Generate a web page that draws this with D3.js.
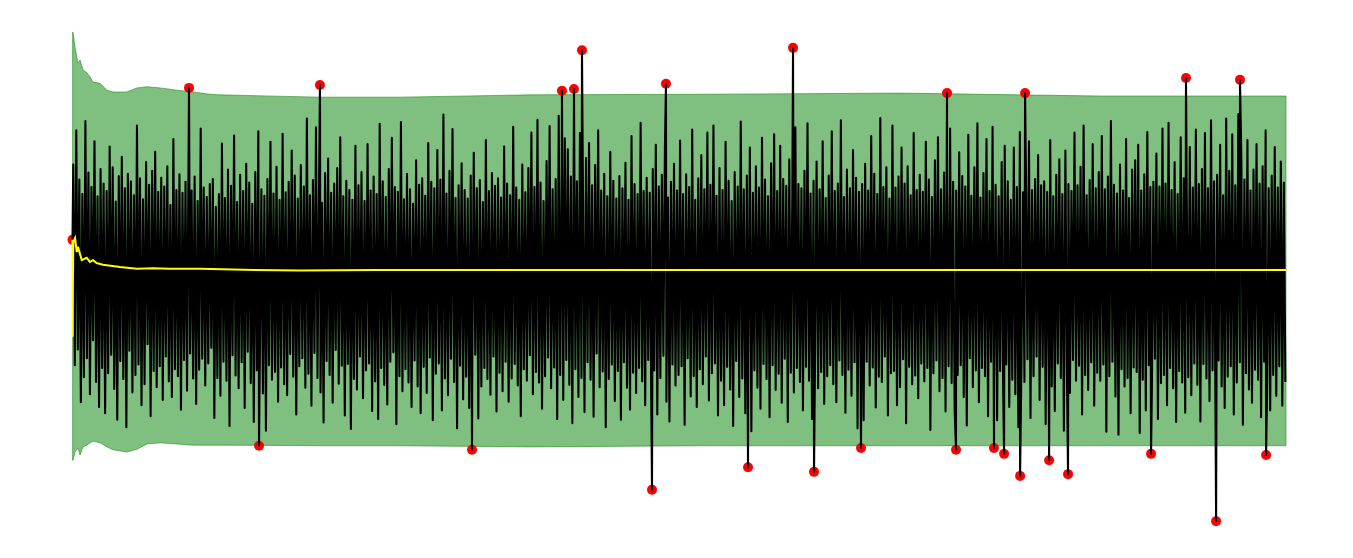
<!DOCTYPE html>
<html>
<head>
<meta charset="utf-8">
<script src="https://cdn.jsdelivr.net/npm/d3@7"></script>
<style>
  body { margin: 0; background: #fff; }
  svg { display: block; }
</style>
</head>
<body>
<svg width="1353" height="558"></svg>
<script>
// sample count of the original record (x axis is the sample index)
var nSamples = 10000;

// signal, read as a down-sampled trace (evenly spaced over the record)
var signal = [
  1.82,-1.64,2.41,-1.37,1.56,-2.28,1.31,-1.85,2.57,-1.52,1.68,-2.14,1.43,-1.21,2.22,-1.93,1.27,-2.36,1.74,-1.69,
  1.49,-2.47,1.36,-1.78,2.13,-1.46,1.77,-2.05,1.18,-2.58,1.62,-1.57,1.95,-1.88,1.41,-2.71,1.66,-1.39,1.53,-2.11,
  1.29,-1.81,2.49,-1.63,1.58,-2.33,1.22,-1.97,1.86,-1.28,1.47,-2.52,1.71,-1.74,2.04,-2.02,1.35,-1.66,1.59,-2.24,
  1.44,-1.49,1.79,-1.92,1.12,-2.19,2.26,-1.71,1.38,-1.83,1.65,-2.41,1.33,-1.55,1.52,-2.08,1.97,-1.44,1.37,-1.87,
  1.61,-2.31,1.19,-1.72,2.44,-1.53,1.42,-1.99,1.26,-1.61,1.48,-1.34,1.57,-2.55,1.09,-1.86,1.31,-2.17,2.18,-1.58,
  1.24,-1.91,1.73,-2.69,1.45,-1.47,2.32,-1.82,1.17,-2.04,1.64,-1.59,1.36,-2.38,1.83,-1.41,1.51,-1.95,1.14,-2.62,
  1.69,-1.73,2.39,-1.51,1.39,-2.13,1.28,-2.77,1.57,-1.64,2.21,-1.89,1.32,-1.76,1.78,-2.27,1.21,-1.68,2.35,-1.97,
  1.34,-2.16,1.52,-1.45,2.06,-1.84,1.63,-2.49,1.23,-1.66,1.81,-1.52,1.44,-2.03,2.61,-1.79,1.29,-2.34,1.55,-1.43,
  2.46,-1.86,1.41,-2.11,1.16,-2.63,1.67,-1.57,1.92,-1.81,1.33,-2.29,1.49,-1.38,1.76,-1.96,2.29,-1.65,1.27,-2.51,
  1.54,-1.62,1.38,-2.74,1.21,-1.88,2.14,-2.06,1.46,-1.49,1.69,-2.21,1.19,-1.73,2.17,-1.61,1.37,-2.43,1.61,-1.92,
  1.31,-2.57,2.52,-1.69,1.53,-1.98,1.26,-2.32,1.74,-1.58,2.28,-1.42,1.43,-2.66,1.35,-1.83,2.55,-2.09,1.22,-1.71,
  1.66,-1.94,1.39,-2.36,1.14,-1.56,1.89,-2.01,1.47,-2.47,1.58,-1.67,1.28,-2.12,2.19,-1.51,1.52,-2.59,1.41,-1.79,
  2.07,-1.61,1.56,-2.42,2.68,-1.87,1.32,-2.16,1.71,-1.53,2.43,-1.93,1.24,-2.73,1.46,-1.65,1.84,-2.23,1.38,-1.84,
  1.23,-2.38,1.63,-1.74,2.02,-1.46,1.41,-2.56,1.55,-2.01,1.17,-1.69,2.24,-1.88,1.36,-2.15,1.67,-1.49,1.45,-2.44,
  1.58,-1.77,1.25,-2.09,2.13,-1.58,1.49,-2.27,1.29,-1.87,2.47,-1.62,1.42,-1.99,1.21,-2.52,1.82,-1.71,1.34,-1.91,
  1.76,-1.47,2.37,-2.14,1.43,-1.76,2.59,-1.94,1.51,-2.39,1.19,-1.83,1.88,-1.51,2.48,-2.04,1.39,-1.68,1.57,-2.57,
  2.66,-1.81,1.72,-2.24,2.27,-1.55,2.08,-1.98,1.61,-2.64,2.62,-1.71,1.53,-2.19,2.36,-1.86,1.34,-2.45,1.93,-1.59,
  2.19,-1.89,1.46,-2.53,1.81,-1.44,2.41,-2.02,1.37,-1.75,1.66,-2.71,1.27,-1.88,2.04,-1.63,1.54,-2.26,1.23,-1.74,
  1.62,-2.58,1.41,-1.59,1.85,-2.03,1.21,-2.41,2.31,-1.77,1.48,-2.12,1.31,-1.69,2.54,-1.92,1.36,-2.33,1.59,-1.55,
  1.33,-2.22,1.74,-1.73,2.16,-2.49,1.44,-1.86,1.64,-1.48,2.09,-2.27,1.25,-2.61,1.52,-1.63,1.83,-1.99,1.37,-1.81,
  2.23,-1.66,1.31,-2.67,1.65,-1.52,1.43,-2.18,2.42,-1.83,1.21,-2.36,1.58,-1.71,1.98,-1.97,1.39,-1.49,2.37,-2.25,
  1.47,-1.78,2.49,-1.61,1.28,-2.51,1.76,-1.91,1.38,-2.33,2.21,-1.67,1.54,-2.06,1.19,-2.69,1.69,-1.57,1.44,-2.19,
  2.56,-1.87,1.39,-2.47,1.63,-1.51,2.11,-2.78,1.33,-1.73,1.79,-2.03,1.42,-2.39,2.28,-1.62,1.56,-1.88,1.27,-2.54,
  1.84,-1.64,2.34,-2.07,1.36,-1.79,2.14,-2.29,1.57,-1.53,1.45,-2.62,1.91,-1.77,1.29,-2.11,2.46,-1.69,1.48,-1.93,
  1.41,-2.42,1.71,-1.67,2.53,-1.91,1.32,-2.57,1.54,-1.47,1.87,-2.04,1.39,-1.76,2.22,-2.31,1.24,-1.83,1.63,-1.64,
  2.39,-1.97,1.36,-2.28,1.49,-1.56,2.58,-1.81,1.26,-2.46,1.73,-1.72,1.41,-2.17,2.07,-1.59,1.59,-2.73,1.35,-1.86,
  1.48,-2.59,1.83,-1.58,1.37,-1.99,2.31,-1.68,1.66,-2.37,1.31,-1.84,2.62,-1.93,1.43,-1.49,1.77,-2.51,1.23,-1.78,
  2.49,-1.74,1.42,-2.33,1.61,-2.02,2.11,-1.54,1.49,-2.64,1.79,-1.67,1.29,-1.97,2.36,-1.82,1.38,-2.21,1.64,-1.61,
  1.35,-1.92,2.21,-1.69,1.56,-2.76,1.26,-1.78,1.89,-1.56,2.29,-2.09,1.39,-1.86,1.68,-2.44,1.33,-1.66,2.44,-1.95,
  1.52,-2.41,1.37,-1.81,2.03,-1.64,1.62,-2.19,1.44,-2.68,2.33,-1.52,1.28,-2.02,1.77,-1.73,2.53,-2.28,1.25,-1.69,
  1.67,-1.83,2.26,-2.52,1.36,-1.58,2.47,-1.98,1.47,-2.59,1.27,-1.74,1.86,-2.13,2.14,-1.63,1.53,-2.36,1.21,-1.89,
  2.11,-2.14,1.43,-2.71,2.38,-1.66,1.34,-1.93,1.69,-1.54,2.22,-2.55,1.38,-1.83,1.57,-1.49,1.98,-2.24,1.46,-1.67,
  1.53,-2.66,1.35,-1.76,2.24,-2.01,1.27,-2.43,1.64,-1.61,1.91,-1.86,1.31,-2.77,2.06,-1.72,1.48,-2.12,1.36,-1.55,
  2.37,-1.91,1.46,-1.65,1.78,-2.49,2.49,-1.81,1.29,-2.07,1.55,-1.59,2.17,-2.34,1.41,-1.77,1.69,-1.91,2.31,-1.63,
  1.39,-2.79,1.61,-1.83,2.57,-1.58,1.47,-2.18,1.32,-2.84,1.82,-1.71,1.37,-2.01,2.26,-1.86,1.24,-2.47,1.73,-1.68,
  1.89,-1.76,2.16,-2.81,1.37,-1.89,1.65,-2.42,2.38,-1.64,1.43,-2.09,1.52,-1.53,2.01,-2.57,1.44,-1.95,2.44,-1.81,
  1.49,-2.33,2.54,-1.69,1.38,-2.04,1.86,-2.62,1.31,-1.74,2.29,-1.94,1.58,-2.46,1.26,-1.85,2.12,-2.16,1.42,-1.61,
  2.42,-1.98,1.48,-2.61,1.74,-1.62,2.36,-1.87,1.41,-2.26,2.58,-1.73,1.53,-2.71,1.64,-1.56,2.16,-2.01,1.29,-2.38,
  2.61,-1.84,1.71,-1.66,2.34,-2.49,1.46,-1.94,2.69,-1.59,1.91,-2.67,1.56,-1.78,2.24,-2.06,1.37,-2.29,1.73,-1.72,
  2.17,-1.89,1.49,-2.54,1.79,-1.58,2.41,-2.03,1.41,-2.42,1.63,-1.81,2.12,-2.17,1.42,-1.66,1.87,-2.34,1.51,-1.93
];

// points flagged outside the band (sample index, value)
var outlierIdx = [0, 960, 1537, 2039, 3292, 4033, 4132, 4198, 4775, 4890, 5566, 5937, 6110, 6497,
                  7206, 7280, 7593, 7676, 7808, 7849, 8047, 8203, 8887, 9175, 9423, 9620, 9835];
var outlierVal = [0.52, 3.14, -3.03, 3.19, -3.10, 3.09, 3.12, 3.79, -3.79, 3.21, -3.40, 3.83, -3.48, -3.07,
                  3.05, -3.10, -3.07, -3.17, -3.55, 3.05, -3.28, -3.52, -3.17, 3.31, -4.33, 3.28, -3.19];

// running mean
var meanIdx  = [0, 1, 3, 7, 21, 35, 45, 76, 117, 144, 169, 199, 251, 391, 531, 663, 803, 1051, 1500, 1875, 2500, 4000, 6000, 8000, 9999];
var meanVals = [0.52, -1.15, -0.30, 0.48, 0.55, 0.31, 0.40, 0.17, 0.21, 0.14, 0.17, 0.12, 0.09, 0.05, 0.02, 0.03, 0.02, 0.02, 0.0, -0.01, 0.0, 0.0, 0.0, 0.0, 0.0];

// running mean +/- 3 std band
var bandIdx   = [1, 4, 21, 45, 62, 87, 119, 144, 169, 227, 284, 334, 449, 531, 614, 721, 861, 993, 1133, 1215, 2039, 2698, 3770, 5170, 6818, 8466, 9999];
var bandUpper = [4.10, 4.10, 3.84, 3.57, 3.62, 3.45, 3.40, 3.33, 3.24, 3.22, 3.10, 3.07, 3.07, 3.14, 3.16, 3.14, 3.10, 3.07, 3.03, 3.02, 2.98, 2.98, 3.02, 3.03, 3.05, 3.00, 3.00];
var bandLower = [-3.28, -3.28, -3.14, -3.07, -3.19, -3.05, -3.02, -2.98, -2.95, -2.98, -3.05, -3.10, -3.14, -3.09, -3.00, -2.98, -3.00, -3.02, -3.02, -3.02, -3.03, -3.03, -3.05, -3.03, -3.03, -3.03, -3.03];

var svg = d3.select("svg");

var x = d3.scaleLinear().domain([0, nSamples - 1]).range([72.5, 1286]);
var y = d3.scaleLinear().domain([-4.5, 4]).range([531, 38]);

// band
var band = bandIdx.map(function (d, i) { return {i: d, hi: bandUpper[i], lo: bandLower[i]}; });
svg.append("path")
    .datum(band)
    .attr("d", d3.area()
        .x(function (d) { return x(d.i); })
        .y0(function (d) { return y(d.lo); })
        .y1(function (d) { return y(d.hi); }))
    .attr("fill", "green")
    .attr("fill-opacity", 0.5)
    .attr("stroke", "green")
    .attr("stroke-opacity", 0.5)
    .attr("stroke-width", 1);

// outlier markers (under the trace)
var outliers = outlierIdx.map(function (d, i) { return {i: d, v: outlierVal[i]}; });
svg.append("g")
    .selectAll("circle")
    .data(outliers)
    .enter()
    .append("circle")
    .attr("cx", function (d) { return x(d.i); })
    .attr("cy", function (d) { return y(d.v); })
    .attr("r", 5)
    .attr("fill", "red");

// trace: down-sampled signal plus the outlier samples
var step = nSamples / signal.length;
var trace = signal.map(function (v, i) { return {i: (i + 0.5) * step, v: v}; })
    .concat(outliers)
    .sort(function (a, b) { return a.i - b.i; });

svg.append("path")
    .datum(trace)
    .attr("d", d3.line()
        .x(function (d) { return x(d.i); })
        .y(function (d) { return y(d.v); }))
    .attr("fill", "none")
    .attr("stroke", "black")
    .attr("stroke-width", 2.08)
    .attr("stroke-linejoin", "round");

// running mean
var mean = meanIdx.map(function (d, i) { return {i: d, v: meanVals[i]}; });
svg.append("path")
    .datum(mean)
    .attr("d", d3.line()
        .x(function (d) { return x(d.i); })
        .y(function (d) { return y(d.v); }))
    .attr("fill", "none")
    .attr("stroke", "yellow")
    .attr("stroke-width", 2);
</script>
</body>
</html>
